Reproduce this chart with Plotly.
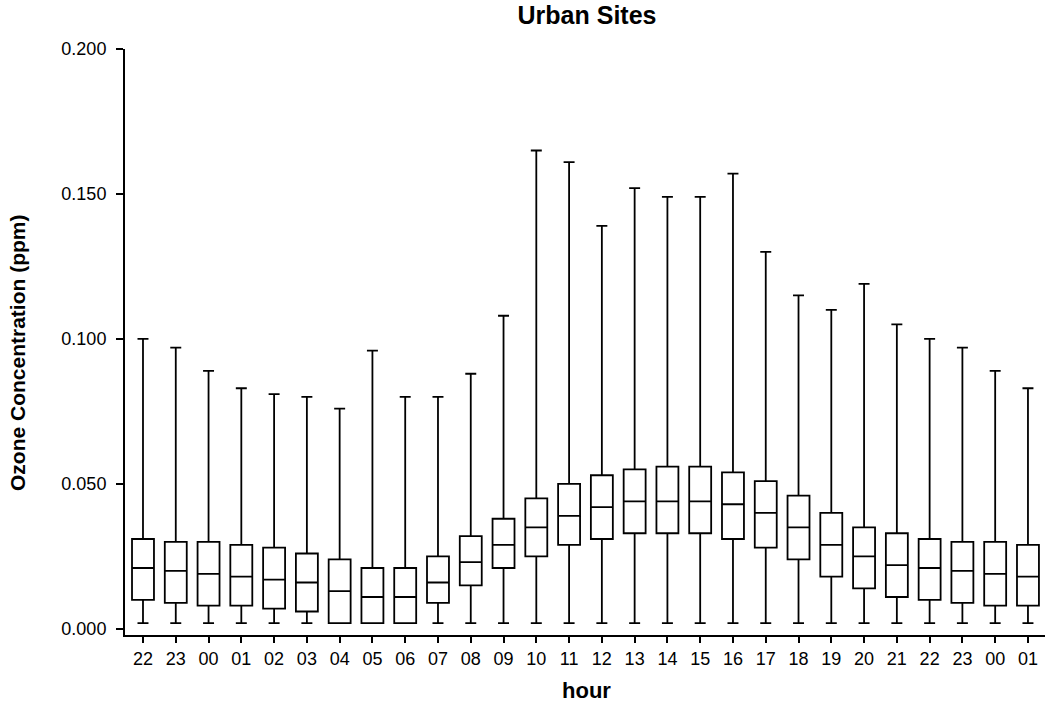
import plotly.graph_objects as go

hours = ["22", "23", "00", "01", "02", "03", "04", "05", "06", "07", "08", "09", "10", "11",
         "12", "13", "14", "15", "16", "17", "18", "19", "20", "21", "22", "23", "00", "01"]
upper = [0.100, 0.097, 0.089, 0.083, 0.081, 0.080, 0.076, 0.096, 0.080, 0.080, 0.088, 0.108, 0.165, 0.161,
         0.139, 0.152, 0.149, 0.149, 0.157, 0.130, 0.115, 0.110, 0.119, 0.105, 0.100, 0.097, 0.089, 0.083]
q3 = [0.031, 0.030, 0.030, 0.029, 0.028, 0.026, 0.024, 0.021, 0.021, 0.025, 0.032, 0.038, 0.045, 0.050,
      0.053, 0.055, 0.056, 0.056, 0.054, 0.051, 0.046, 0.040, 0.035, 0.033, 0.031, 0.030, 0.030, 0.029]
median = [0.021, 0.020, 0.019, 0.018, 0.017, 0.016, 0.013, 0.011, 0.011, 0.016, 0.023, 0.029, 0.035, 0.039,
          0.042, 0.044, 0.044, 0.044, 0.043, 0.040, 0.035, 0.029, 0.025, 0.022, 0.021, 0.020, 0.019, 0.018]
q1 = [0.010, 0.009, 0.008, 0.008, 0.007, 0.006, 0.002, 0.002, 0.002, 0.009, 0.015, 0.021, 0.025, 0.029,
      0.031, 0.033, 0.033, 0.033, 0.031, 0.028, 0.024, 0.018, 0.014, 0.011, 0.010, 0.009, 0.008, 0.008]
lower = [0.002] * 28
y_ticks = [0, 0.05, 0.1, 0.15, 0.2]
y_tick_labels = ["0.000", "0.050", "0.100", "0.150", "0.200"]

positions = list(range(len(hours)))

fig = go.Figure()
fig.add_trace(go.Box(
    x=positions,
    q1=q1, median=median, q3=q3,
    lowerfence=lower, upperfence=upper,
    fillcolor="white",
    line=dict(color="black", width=1.8),
    width=0.67,
    whiskerwidth=0.5,
    boxpoints=False,
    showlegend=False,
    hoverinfo="y",
))

font_family = "Liberation Sans, Arial, sans-serif"
fig.update_layout(
    width=1045, height=704,
    margin=dict(l=125, r=0, t=49, b=69),
    paper_bgcolor="white", plot_bgcolor="white",
    font=dict(family=font_family, color="black", size=18),
    title=dict(text="<b>Urban Sites</b>", x=587 / 1045, xanchor="center",
               y=1 - 15 / 704, yanchor="middle",
               font=dict(size=25, family=font_family)),
    xaxis=dict(
        range=[-0.549, 27.52],
        tickmode="array", tickvals=positions, ticktext=hours,
        showline=True, linecolor="black", linewidth=2,
        ticks="outside", ticklen=6, tickwidth=2, tickcolor="black",
        showgrid=False, zeroline=False,
        tickfont=dict(size=18),
    ),
    yaxis=dict(
        range=[-0.0021, 0.2],
        tickmode="array", tickvals=y_ticks, ticktext=y_tick_labels,
        showline=True, linecolor="black", linewidth=2,
        ticks="outside", ticklen=7, tickwidth=2, tickcolor="black",
        showgrid=False, zeroline=False,
        tickfont=dict(size=18),
        ticklabelstandoff=6,
    ),
    annotations=[
        dict(text="<b>Ozone Concentration (ppm)</b>", textangle=-90,
             xref="paper", yref="paper", x=0, y=(635 - 353) / 586,
             xanchor="center", yanchor="middle", xshift=-107, showarrow=False,
             font=dict(size=21)),
        dict(text="<b>hour</b>",
             xref="paper", yref="paper", x=(586 - 125) / 920, y=0,
             xanchor="center", yanchor="middle", yshift=-55, showarrow=False,
             font=dict(size=22)),
    ],
)

fig.write_html("out.html", config={"displayModeBar": False},
               post_script="document.body.style.margin='0';")
